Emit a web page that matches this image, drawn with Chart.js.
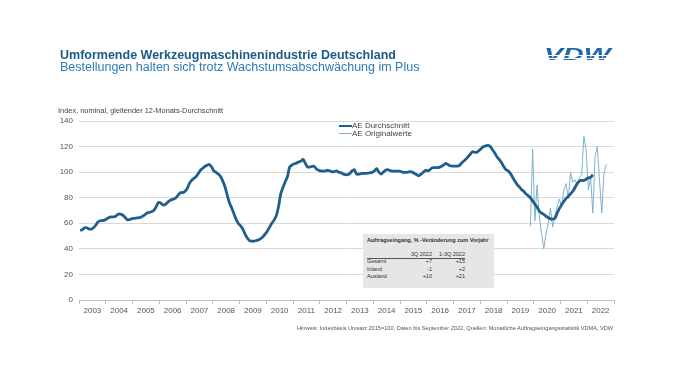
<!DOCTYPE html>
<html><head><meta charset="utf-8">
<script src="https://cdn.jsdelivr.net/npm/chart.js@4/dist/chart.umd.min.js"></script>
<style>
html,body{margin:0;padding:0;background:#fff;}
#wrap{position:relative;width:675px;height:391px;overflow:hidden;font-family:"Liberation Sans",Arial,sans-serif;}
canvas{position:absolute;left:0;top:0;}
.abs{position:absolute;white-space:nowrap;}
.t1{left:60px;top:49px;font-size:12.5px;line-height:12px;font-weight:bold;color:#1d5a88;}
.t2{left:60px;top:60.5px;font-size:12.5px;line-height:12px;color:#2d7cb8;}
.logo{left:544px;top:44.5px;font-size:17px;line-height:20px;font-weight:900;font-style:italic;color:#2167a8;transform-origin:left top;transform:scaleX(1.68);}
.stripe{position:absolute;left:540px;width:80px;height:1px;background:#fff;}
.ytitle{left:58px;top:107px;font-size:7.4px;line-height:8px;color:#444;}
.leg{font-size:8px;line-height:8px;color:#444;}
.legline{position:absolute;width:13px;}
.box{position:absolute;left:363px;top:234px;width:131px;height:54px;background:#e6e6e6;}
.tb{position:absolute;font-size:5.5px;line-height:6px;color:#333;white-space:nowrap;}
.r{text-align:right;}
.foot{left:297px;top:325px;font-size:5.6px;line-height:6px;color:#555;}
</style></head>
<body><div id="wrap">
<canvas id="c" width="675" height="391"></canvas>
<div class="abs t1">Umformende Werkzeugmaschinenindustrie Deutschland</div>
<div class="abs t2">Bestellungen halten sich trotz Wachstumsabschwächung im Plus</div>
<div class="abs logo">VDW</div>
<div class="stripe" style="top:55px;"></div>
<div class="stripe" style="top:57.5px;"></div>
<div class="abs ytitle">Index, nominal, gleitender 12-Monats-Durchschnitt</div>
<div class="legline" style="left:339px;top:124.5px;height:2.5px;background:#1e5f8c;"></div>
<div class="abs leg" style="left:352px;top:122px;">AE Durchschnitt</div>
<div class="legline" style="left:339px;top:133px;height:1px;background:#7fb1cc;"></div>
<div class="abs leg" style="left:352px;top:129.5px;">AE Originalwerte</div>
<div class="box">
  <div class="tb" style="left:4px;top:3px;font-weight:bold;">Auftragseingang, % -Veränderung zum Vorjahr</div>
  <div style="position:absolute;left:4px;top:23.5px;width:98px;height:0;border-top:0.7px solid #555;"></div>
  <div class="tb r" style="right:62px;top:17px;">3Q 2022</div>
  <div class="tb r" style="right:29px;top:17px;">1-3Q 2022</div>
  <div class="tb" style="left:4px;top:24px;">Gesamt</div>
  <div class="tb r" style="right:62px;top:24px;">+7</div>
  <div class="tb r" style="right:29px;top:24px;">+15</div>
  <div class="tb" style="left:4px;top:31.5px;">Inland</div>
  <div class="tb r" style="right:62px;top:31.5px;">-1</div>
  <div class="tb r" style="right:29px;top:31.5px;">+2</div>
  <div class="tb" style="left:4px;top:39px;">Ausland</div>
  <div class="tb r" style="right:62px;top:39px;">+10</div>
  <div class="tb r" style="right:29px;top:39px;">+21</div>
</div>
<div class="abs foot">Hinweis: Indexbasis Umsatz 2015=100, Daten bis September 2022, Quellen: Monatliche Auftragseingangsstatistik VDMA, VDW</div>
</div>
<script>
// Years on the x-axis
const years = ['2003','2004','2005','2006','2007','2008','2009','2010','2011','2012','2013','2014','2015','2016','2017','2018','2019','2020','2021','2022'];
// Y-axis ticks
const yTicks = [0,20,40,60,80,100,120,140];
// AE Durchschnitt (12-month moving average), monthly from Jan 2003 to Mar 2022
const aeDurchschnitt = [
  54.5,55,56.5,56.5,55.5,55.5,56.5,58.5,61,62,62,62.5,
  63.5,64.5,65,65,65.5,67,67.2,66.5,65,63,62.8,63.5,
  63.8,64,64.3,64.5,65.5,66.5,68,68.5,69,70,72.5,76,
  76,74.5,74.5,76,77.5,78.5,79,80,82,84,84,85,
  87,91,93.5,95,96.5,99,101.5,103,104.5,105.5,106,104,
  101,99.8,98.5,96.5,93,88.5,82,76,72,67.5,63,59.8,
  58,55.5,51.5,48.5,46.5,46,46,46.5,47,48,49.5,51.5,
  54,57,60,62.5,66,73,83,88,92.5,96.5,104,105.5,
  106.5,107,108,108.5,110,107,104,104,104.5,104.5,102.5,101.5,
  101,100.8,101,101.5,101,100.3,100.5,101,100,99.5,98.5,98,
  98,99,101,102,98.5,98.5,98.8,99,99,99.2,99.5,99.8,
  101,102.7,100,98.5,100,101.5,102,101.2,100.8,100.8,100.8,100.8,
  100.5,99.8,99.8,100,100.3,100,99,98,97.2,98.5,100,101.5,
  101,102,103.4,103.5,103.5,103.7,104.5,105.5,106.8,106,105,104.7,
  104.7,104.7,105,106.8,108.5,110,112,114,116,115.5,115.5,117,
  118.5,120,120.5,121,120,117.5,115,112,110,107.5,104.5,102,
  101,99,96,93,90.5,88.5,86.5,85,83,81.5,80,77.5,
  75,72.5,69.5,68,67,65.5,64.5,63.5,63.3,64,68,71.5,
  74.5,77,79.5,81,83,85,88,91,93,93.5,93.5,94.5,
  95.5,96,98
];
// AE Originalwerte, monthly from Nov 2019 to Sep 2022
const originalStartIndex = 202; // Nov 2019, months after Jan 2003
const aeOriginalwerte = [
  58,118,
  62,90,65,52,40,52,60,72,57,66,73,79,
  73,86,91,79,100,92,94,90,96,98,128,117,
  86,96,68,112,120,94,68,99,106
];

const avgPts = aeDurchschnitt.map((v,i)=>({x:i+0.5,y:v}));
const origPts = aeOriginalwerte.map((v,i)=>({x:originalStartIndex+i+0.5,y:v}));

new Chart(document.getElementById('c'), {
  type:'line',
  data:{datasets:[
    {label:'AE Durchschnitt',data:avgPts,borderColor:'#1e5f8c',borderWidth:2.8,pointRadius:0,tension:0.3,fill:false},
    {label:'AE Originalwerte',data:origPts,borderColor:'#7fb1cc',borderWidth:1,pointRadius:0,tension:0,fill:false}
  ]},
  options:{
    responsive:false,animation:false,
    layout:{padding:{left:0,right:61,top:121,bottom:0}},
    plugins:{legend:{display:false},tooltip:{enabled:false}},
    scales:{
      x:{type:'linear',min:0,max:years.length*12,
        afterFit:s=>{s.height=91;},
        border:{display:true,color:'#bfbfbf',width:1},
        grid:{drawOnChartArea:false,drawTicks:true,tickLength:4,
          color:ctx=>(ctx.tick && ctx.tick.value%12===0)?'#bfbfbf':'rgba(0,0,0,0)'},
        ticks:{stepSize:6,autoSkip:false,maxRotation:0,padding:2,color:'#555',
          font:{family:'"Liberation Sans", Arial, sans-serif',size:8},
          callback:v=>(v%12===6)?years[(v-6)/12]:''}
      },
      y:{min:0,max:140,
        afterFit:s=>{s.width=79;},
        afterBuildTicks:s=>{s.ticks=yTicks.map(v=>({value:v}));},
        border:{display:false},
        grid:{color:'#d9d9d9',lineWidth:1,drawTicks:false},
        ticks:{padding:6,color:'#555',font:{family:'"Liberation Sans", Arial, sans-serif',size:8}}
      }
    }
  }
});
</script>
</body></html>
